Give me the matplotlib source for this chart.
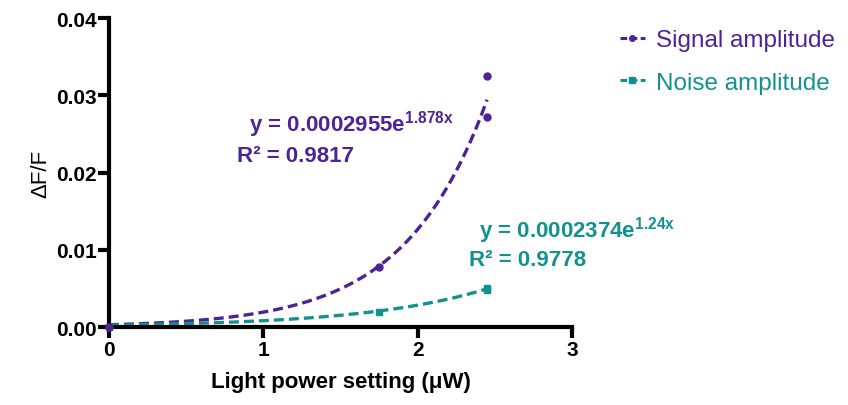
import numpy as np
import matplotlib
matplotlib.use("Agg")
import matplotlib.pyplot as plt
from matplotlib.lines import Line2D

plt.rcParams['font.family'] = ['Liberation Sans', 'DejaVu Sans']
plt.rcParams['mathtext.fontset'] = 'custom'
plt.rcParams['mathtext.rm'] = 'Liberation Sans'
plt.rcParams['mathtext.bf'] = 'Liberation Sans:bold'

# dados medidos
sinal_x = [0.0, 1.75, 2.45, 2.45]
sinal_y = [0.0, 0.0078, 0.0325, 0.0272]
ruido_x = [0.0, 1.75, 2.45, 2.45]
ruido_y = [0.0, 0.0020, 0.0048, 0.0050]

# parâmetros dos ajustes exponenciais (y = a*e^(b*x))
sinal_a, sinal_b, sinal_r2 = 0.0002955, 1.878, 0.9817
ruido_a, ruido_b, ruido_r2 = 0.0002374, 1.24, 0.9778

roxo = '#4E2394'
verde = '#12928F'

fig = plt.figure(figsize=(8.48, 4.06), dpi=100)
ax = fig.add_axes([0.1285, 0.192, 0.546, 0.761])

xs = np.linspace(0, max(sinal_x), 200)
ax.plot(xs, sinal_a * np.exp(sinal_b * xs), color=roxo, lw=2.4, dashes=(3, 1.5))
ax.plot(xs, ruido_a * np.exp(ruido_b * xs), color=verde, lw=2.4, dashes=(3, 1.5))
ax.plot(ruido_x, ruido_y, 's', color=verde, ms=5, clip_on=False, zorder=3)
ax.plot(sinal_x, sinal_y, 'o', color=roxo, ms=5, clip_on=False, zorder=4)

ax.set_xlim(0, 3)
ax.set_ylim(0, 0.04)
ax.set_xticks([0, 1, 2, 3])
ax.set_yticks([0, 0.01, 0.02, 0.03, 0.04])
ax.set_yticklabels(['0.00', '0.01', '0.02', '0.03', '0.04'])
for s in ['top', 'right']:
    ax.spines[s].set_visible(False)
for s in ['left', 'bottom']:
    ax.spines[s].set_linewidth(3)
ax.tick_params(width=3, length=8, labelsize=15, pad=1)
for lbl in ax.get_xticklabels() + ax.get_yticklabels():
    lbl.set_fontweight('bold')

ax.set_xlabel('Light power setting (μW)', fontsize=16, fontweight='bold', labelpad=9)
ax.set_ylabel('ΔF/F', fontsize=16, labelpad=3)

# equações dos ajustes
ax.text(0.91, 0.0263, 'y = 0.0002955e$^{\\mathbf{1.878x}}$', color=roxo, fontsize=16,
        fontweight='bold', ha='left', va='center')
ax.text(0.83, 0.0222, 'R² = %.4f' % sinal_r2, color=roxo, fontsize=16,
        fontweight='bold', ha='left', va='center')
ax.text(2.40, 0.0126, 'y = 0.0002374e$^{\\mathbf{1.24x}}$', color=verde, fontsize=16,
        fontweight='bold', ha='left', va='center')
ax.text(2.33, 0.0087, 'R² = %.4f' % ruido_r2, color=verde, fontsize=16,
        fontweight='bold', ha='left', va='center')

handles = [Line2D([], [], color=roxo, lw=2.2, dashes=(2.2, 1.1), marker='o', ms=4),
           Line2D([], [], color=verde, lw=2.2, dashes=(2.2, 1.1), marker='s', ms=4)]
fig.legend(handles, ['Signal amplitude', 'Noise amplitude'], loc='upper left',
           bbox_to_anchor=(0.705, 0.98), frameon=False, fontsize=17.5,
           labelcolor='linecolor', handlelength=1.05, handletextpad=0.45,
           labelspacing=0.85)

fig.savefig('out.png', dpi=100)
